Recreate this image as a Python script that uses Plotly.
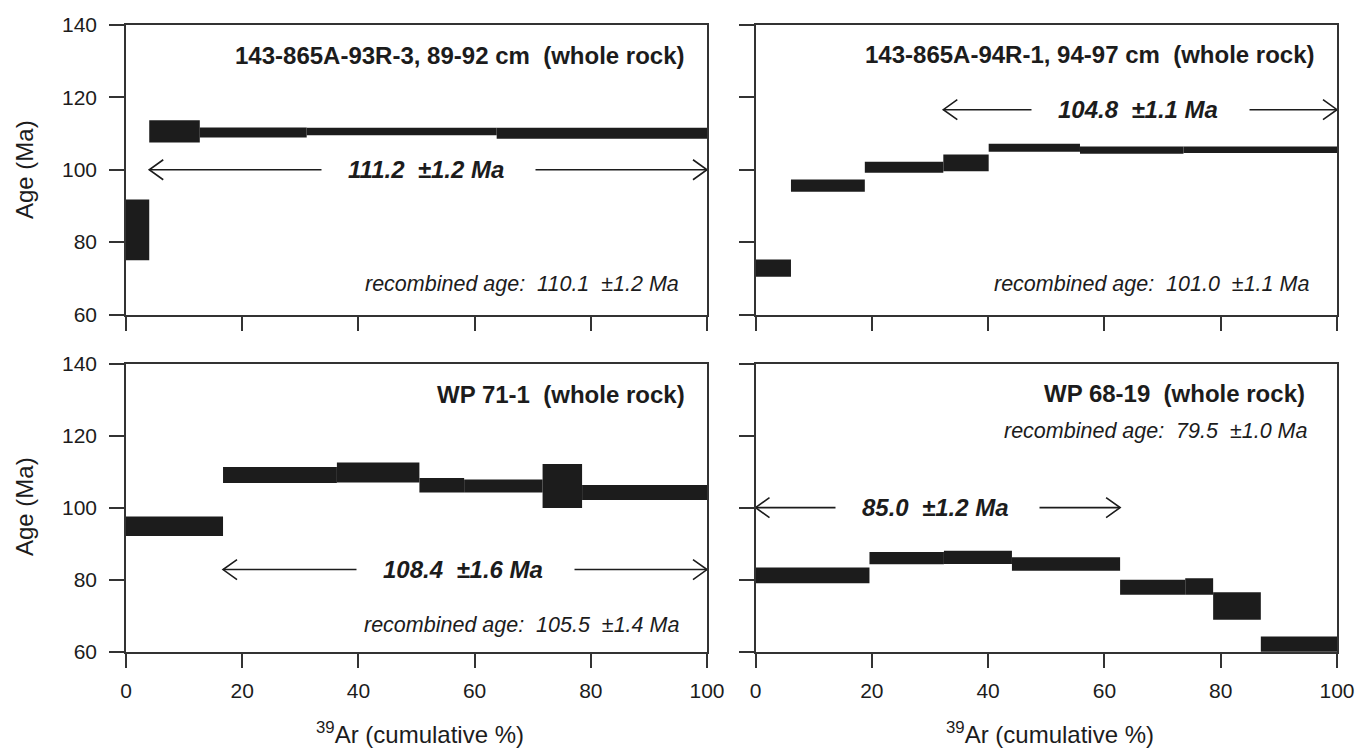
import plotly.graph_objects as go

# ---------------- data ----------------
# step edges (cumulative % 39Ar), step ages (Ma) and half-errors (Ma)
TL_edges = [0, 4.0, 12.7, 31.1, 63.8, 100]
TL_age = [83.4, 110.6, 110.3, 110.55, 110.1]
TL_err = [8.4, 3.1, 1.4, 1.05, 1.5]

TR_edges = [0, 6.1, 18.8, 32.3, 40.1, 55.8, 73.6, 100]
TR_age = [72.8, 95.6, 100.7, 101.9, 106.1, 105.4, 105.5]
TR_err = [2.4, 1.7, 1.5, 2.3, 1.1, 1.0, 0.9]

BL_edges = [0, 16.7, 36.3, 50.5, 58.2, 71.7, 78.5, 100]
BL_age = [94.8, 109.05, 109.75, 106.2, 106.0, 106.0, 104.2]
BL_err = [2.7, 2.25, 2.8, 2.0, 1.8, 6.1, 2.1]

BR_edges = [0, 19.6, 32.4, 44.1, 62.7, 73.9, 78.7, 86.9, 100]
BR_age = [81.2, 86.0, 86.2, 84.35, 77.9, 78.1, 72.7, 61.0]
BR_err = [2.2, 1.7, 1.85, 1.85, 2.1, 2.3, 3.8, 3.2]

titles = ["143-865A-93R-3, 89-92 cm  (whole rock)",
          "143-865A-94R-1, 94-97 cm  (whole rock)",
          "WP 71-1  (whole rock)",
          "WP 68-19  (whole rock)"]
plateau_text = ["111.2  ±1.2 Ma", "104.8  ±1.1 Ma", "108.4  ±1.6 Ma", "85.0  ±1.2 Ma"]
plateau_range = [(4.0, 100), (32.3, 100), (16.7, 100), (0, 62.7)]
plateau_y = [100, 116.6, 82.8, 100]
recombined = ["recombined age:  110.1  ±1.2 Ma", "recombined age:  101.0  ±1.1 Ma",
              "recombined age:  105.5  ±1.4 Ma", "recombined age:  79.5  ±1.0 Ma"]
recombined_y = [68.3, 68.3, 67.5, 121.2]
title_y = [131.5, 131.8, 131.5, 131.6]
title_x = [96.6, 96.6, 96.6, 94.8]
recombined_x = [95.6, 95.6, 95.6, 95.2]

x_ticks = [0, 20, 40, 60, 80, 100]
y_ticks = [60, 80, 100, 120, 140]

# ---------------- layout geometry ----------------
# the page body adds an 8 px offset; the figure is sized to fit the window
OFF = 8
W, H = 1370 - 2 * OFF, 756 - 2 * OFF


def fx(p):
    return (p - OFF) / W


def fy(p):
    return 1 - (p - OFF) / H


xdom = [[fx(126.0), fx(707.0)], [fx(755.5), fx(1337.0)]]
ydom = [[fy(651.7), fy(363.5)], [fy(314.5), fy(25.0)]]
panels = [  # (edges, ages, errs, col, row)
    (TL_edges, TL_age, TL_err, 0, 1),
    (TR_edges, TR_age, TR_err, 1, 1),
    (BL_edges, BL_age, BL_err, 0, 0),
    (BR_edges, BR_age, BR_err, 1, 0),
]

INK = "#1c1c1c"
FONT = "Liberation Sans, Arial, Helvetica, sans-serif"

fig = go.Figure()
layout = dict(
    width=W, height=H, margin=dict(l=0, r=0, t=0, b=0, pad=0, autoexpand=False),
    paper_bgcolor="white", plot_bgcolor="white", showlegend=False,
    barmode="overlay", font=dict(family=FONT, color=INK),
)
annotations = []

for i, (edges, ages, errs, col, row) in enumerate(panels):
    n = i + 1
    xa = "x" if n == 1 else f"x{n}"
    ya = "y" if n == 1 else f"y{n}"
    # step rectangles as bars
    mids = [(edges[k] + edges[k + 1]) / 2 for k in range(len(ages))]
    widths = [edges[k + 1] - edges[k] for k in range(len(ages))]
    fig.add_trace(go.Bar(
        x=mids, y=[2 * e for e in errs], base=[a - e for a, e in zip(ages, errs)],
        width=widths, marker=dict(color=INK, line=dict(width=0)),
        xaxis=xa, yaxis=ya, hoverinfo="skip"))

    # plateau arrow (shaft + open chevron heads)
    px_per_x = (xdom[col][1] - xdom[col][0]) * W / 100.0
    px_per_y = (ydom[row][1] - ydom[row][0]) * H / 80.0
    dx = 14 / px_per_x
    dy = 10 / px_per_y
    x0, x1 = plateau_range[i]
    yv = plateau_y[i]
    ax_x = [x0, x1, None, x0 + dx, x0, x0 + dx, None, x1 - dx, x1, x1 - dx]
    ax_y = [yv, yv, None, yv + dy, yv, yv - dy, None, yv + dy, yv, yv - dy]
    fig.add_trace(go.Scatter(x=ax_x, y=ax_y, mode="lines",
                             line=dict(color=INK, width=1.6),
                             xaxis=xa, yaxis=ya, hoverinfo="skip", cliponaxis=False))

    xref, yref = xa, ya
    annotations.append(dict(
        x=(x0 + x1) / 2, y=yv, xref=xref, yref=yref, showarrow=False,
        text="<b><i>\u2002\u2002" + plateau_text[i].replace("  ", "\u00a0\u00a0") + "\u2002\u2002\u2009</i></b>",
        font=dict(size=24, color=INK), bgcolor="white", borderpad=2,
        xanchor="center", yanchor="middle"))
    annotations.append(dict(
        x=title_x[i], y=title_y[i], xref=xref, yref=yref, showarrow=False,
        text="<b>" + titles[i].replace("  ", "\u00a0\u00a0") + "</b>",
        font=dict(size=24, color=INK), xanchor="right", yanchor="middle"))
    annotations.append(dict(
        x=recombined_x[i], y=recombined_y[i], xref=xref, yref=yref, showarrow=False,
        text="<i>" + recombined[i].replace("  ", "\u00a0\u00a0") + "</i>",
        font=dict(size=21.5, color=INK), xanchor="right", yanchor="middle"))

    axis_common = dict(showline=True, mirror=True, linecolor="#333333", linewidth=1.5,
                       ticks="outside", ticklen=15, tickwidth=1.5, tickcolor="#333333",
                       showgrid=False, zeroline=False, fixedrange=True, automargin=False,
                       tickfont=dict(size=21, color=INK, family=FONT))
    layout["xaxis" if n == 1 else f"xaxis{n}"] = dict(
        axis_common, domain=xdom[col], range=[0, 100], tickvals=x_ticks,
        showticklabels=(row == 0), anchor=ya, ticklabelstandoff=4)
    layout["yaxis" if n == 1 else f"yaxis{n}"] = dict(
        axis_common, domain=ydom[row], range=[60, 140], tickvals=y_ticks,
        showticklabels=(col == 0), anchor=xa, ticklabelstandoff=8)

# axis titles
for yc in (170, 507):
    annotations.append(dict(
        x=fx(24), y=fy(yc), xref="paper", yref="paper", showarrow=False,
        text="Age (Ma)", textangle=-90, font=dict(size=24, color=INK),
        xanchor="center", yanchor="middle"))
for xc in (420, 420 + 755.5 - 126.0):
    annotations.append(dict(
        x=fx(xc), y=fy(733), xref="paper", yref="paper", showarrow=False,
        text="<sup>39</sup>Ar (cumulative %)", font=dict(size=24, color=INK),
        xanchor="center", yanchor="middle"))

layout["annotations"] = annotations
fig.update_layout(**layout)
fig.write_html("out.html")
